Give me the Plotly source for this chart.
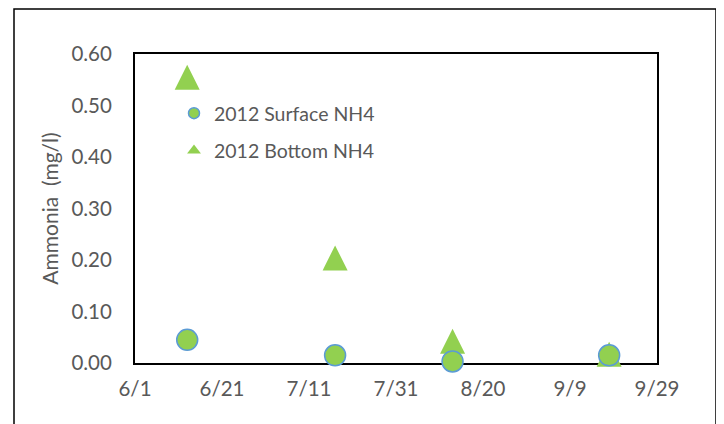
import plotly.graph_objects as go

# ---- data ----
sample_dates = ["2012-06-13", "2012-07-17", "2012-08-13", "2012-09-18"]
surface_nh4 = [0.045, 0.015, 0.003, 0.015]
bottom_nh4 = [0.555, 0.204, 0.042, 0.017]
surface_name = "2012 Surface NH4"
bottom_name = "2012 Bottom NH4"
y_title = "Ammonia  (mg/l)"
x_start, x_end = "2012-06-01", "2012-09-29"
y_ticks = [0.0, 0.1, 0.2, 0.3, 0.4, 0.5, 0.6]

GREEN = "#92D050"
BLUE = "#5B9BD5"
TXT = "#595959"
FONT = "Lato"

fig = go.Figure()

# bottom (triangles) first so circles sit on top
fig.add_trace(go.Scatter(
    x=sample_dates, y=bottom_nh4, mode="markers", name=bottom_name,
    showlegend=False, cliponaxis=False,
    marker=dict(symbol="arrow-down", angle=180, standoff=12.5, size=25,
                color=GREEN, line=dict(width=0)),
))
fig.add_trace(go.Scatter(
    x=sample_dates, y=surface_nh4, mode="markers", name=surface_name,
    showlegend=False, cliponaxis=False,
    marker=dict(symbol="circle", size=21, color=GREEN,
                line=dict(color=BLUE, width=1.5)),
))
# legend entries
fig.add_trace(go.Scatter(
    x=[None], y=[None], mode="markers", name=surface_name,
    legendgroup="s", legendrank=1,
    marker=dict(symbol="circle", size=11, color=GREEN,
                line=dict(color=BLUE, width=1.5)),
))
fig.add_trace(go.Scatter(
    x=[None], y=[None], mode="markers", name=bottom_name,
    legendgroup="b", legendrank=2,
    marker=dict(symbol="triangle-up", size=12, color=GREEN, line=dict(width=0)),
))

# page has an 8px body margin: offset figure-internal positions by it
OFF = 8
W, H = 724, 424
L, R, T, B = 135 - OFF, 67 + OFF, 54 - OFF, 61 + OFF
pw, ph = W - L - R, H - T - B

def px_x(p):  # page pixel -> paper x
    return (p - OFF - L) / pw

def px_y(p):  # page pixel -> paper y
    return (H - B - (p - OFF)) / ph

fig.update_layout(
    width=W, height=H,
    margin=dict(l=L, r=R, t=T, b=B),
    paper_bgcolor="white", plot_bgcolor="white",
    font=dict(family=FONT, color=TXT, size=20),
    showlegend=True,
    legend=dict(
        x=px_x(174), y=px_y(94), xanchor="left", yanchor="top",
        bgcolor="rgba(0,0,0,0)", borderwidth=0,
        font=dict(family=FONT, size=19.5, color=TXT),
        traceorder="grouped", tracegroupgap=9,
    ),
    xaxis=dict(
        type="date", range=[x_start, x_end],
        tick0=x_start, dtick=20 * 86400000, tickformat="%-m/%-d",
        showgrid=False, zeroline=False,
        showline=True, linecolor="black", linewidth=2, mirror=True,
        ticks="", ticklabelstandoff=6, layer="below traces",
        tickfont=dict(family=FONT, size=20.5, color=TXT),
    ),
    yaxis=dict(
        range=[0, 0.6], tickvals=y_ticks, tickformat=".2f",
        showgrid=False, zeroline=False,
        showline=True, linecolor="black", linewidth=2, mirror=True,
        ticks="", ticklabelstandoff=17, layer="below traces",
        tickfont=dict(family=FONT, size=20.5, color=TXT),
        title=dict(text=y_title, standoff=7,
                   font=dict(family=FONT, size=21, color=TXT)),
    ),
    shapes=[dict(
        type="rect", xref="paper", yref="paper",
        x0=px_x(14), x1=px_x(716), y0=px_y(440), y1=px_y(9),
        line=dict(color="black", width=1.5), fillcolor="rgba(0,0,0,0)",
        layer="below",
    )],
)

fig.write_html("out.html")
